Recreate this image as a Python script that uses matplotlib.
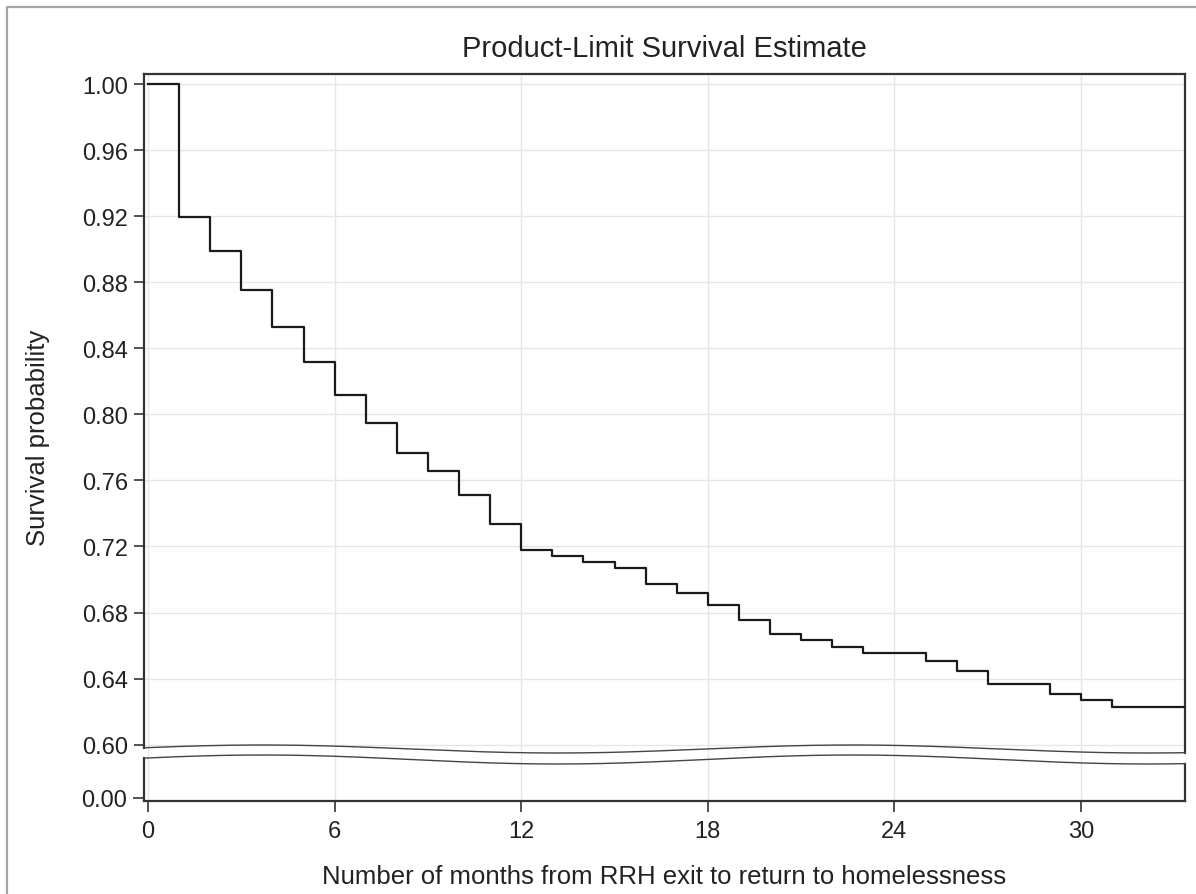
import numpy as np
import matplotlib
matplotlib.use("Agg")
import matplotlib.pyplot as plt
from matplotlib.ticker import FixedLocator, FormatStrFormatter

plt.rcParams['font.family'] = ['Liberation Sans', 'DejaVu Sans']

# ---- data ----
months = [0, 1, 2, 3, 4, 5, 6, 7, 8, 9, 10, 11, 12, 13, 14, 15, 16, 17, 18,
          19, 20, 21, 22, 23, 25, 26, 27, 29, 30, 31, 33.4]
survival = [1.000, 0.9197, 0.8991, 0.8755, 0.8531, 0.8319, 0.8119, 0.7946,
            0.7768, 0.7657, 0.7512, 0.7336, 0.7179, 0.7141, 0.7104, 0.7068,
            0.6973, 0.6920, 0.6846, 0.6755, 0.6668, 0.6632, 0.6593, 0.6555,
            0.6509, 0.6447, 0.6368, 0.6305, 0.6271, 0.6226, 0.6226]
x_ticks = [0, 6, 12, 18, 24, 30]
y_ticks = [0.60, 0.64, 0.68, 0.72, 0.76, 0.80, 0.84, 0.88, 0.92, 0.96, 1.00]
title = "Product-Limit Survival Estimate"
xlabel = "Number of months from RRH exit to return to homelessness"
ylabel = "Survival probability"

W, H = 1196, 895
fig = plt.figure(figsize=(W / 100, H / 100), dpi=100)
fig.patch.set_facecolor('white')

def rect(left, top, right, bottom):
    return [left / W, 1 - bottom / H, (right - left) / W, (bottom - top) / H]

TXT = '#222222'
SP = '#333333'
GRID = '#e6e6e6'

L, R = 144, 1185
x0_px, px_per_month = 148, 31.1
xmin = (L - x0_px) / px_per_month
xmax = (R - x0_px) / px_per_month

# upper axes
top_px, up_bot_px = 75, 754
y100, y060 = 85, 745.7
ppu = (y060 - y100) / 0.40
ax = fig.add_axes(rect(L, top_px, R, up_bot_px))
ax.set_xlim(xmin, xmax)
ax.set_ylim(0.60 - (up_bot_px - y060) / ppu, 1.0 + (y100 - top_px) / ppu)
ax.step(months, survival, where='post', color='#1a1a1a', lw=1.6, zorder=3)
ax.xaxis.set_major_locator(FixedLocator(x_ticks))
ax.yaxis.set_major_locator(FixedLocator(y_ticks))
ax.yaxis.set_major_formatter(FormatStrFormatter('%.2f'))
ax.grid(True, color=GRID, lw=1.0, zorder=0)
ax.set_axisbelow(True)
ax.tick_params(axis='x', bottom=False, labelbottom=False)
ax.tick_params(axis='y', direction='out', length=7.5, width=1.2, color=SP,
               labelsize=17, labelcolor=TXT, pad=4)
ax.spines['bottom'].set_visible(False)
for s in ax.spines.values():
    s.set_color(SP)
    s.set_linewidth(1.6)

# lower axes
lo_top_px, lo_bot_px, zero_px = 755, 801.7, 799
ax2 = fig.add_axes(rect(L, lo_top_px, R, lo_bot_px))
ax2.set_xlim(xmin, xmax)
ax2.set_ylim(-(lo_bot_px - zero_px), zero_px - lo_top_px)
ax2.xaxis.set_major_locator(FixedLocator(x_ticks))
ax2.yaxis.set_major_locator(FixedLocator([0]))
ax2.set_yticklabels(['0.00'])
ax2.grid(True, axis='x', color=GRID, lw=1.0, zorder=0)
ax2.set_axisbelow(True)
ax2.tick_params(axis='both', direction='out', length=8, width=1.2, color=SP,
                labelsize=17, labelcolor=TXT)
ax2.tick_params(axis='y', pad=4)
ax2.tick_params(axis='x', pad=6)
ax2.spines['top'].set_visible(False)
for s in ax2.spines.values():
    s.set_color(SP)
    s.set_linewidth(1.6)

# break waves (pixel coordinates, decoration)
def wave_up(x):
    return 750 + 4.0 * np.sin(2 * np.pi * (x - 410) / 590)

def wave_lo(x):
    return 760.5 + 4.5 * np.sin(2 * np.pi * (x - 410) / 590)

# spine bounds ending at the waves
def up_val(y):
    return 1.0 - (y - y100) / ppu

def lo_val(y):
    return zero_px - y

ax.spines['left'].set_bounds(up_val(wave_up(L)), ax.get_ylim()[1])
ax.spines['right'].set_bounds(up_val(wave_up(R)), ax.get_ylim()[1])
ax2.spines['left'].set_bounds(ax2.get_ylim()[0], lo_val(wave_lo(L)))
ax2.spines['right'].set_bounds(ax2.get_ylim()[0], lo_val(wave_lo(R)))

ov = fig.add_axes([0, 0, 1, 1], zorder=10)
ov.set_xlim(0, W)
ov.set_ylim(H, 0)
ov.axis('off')
xs = np.linspace(L, R, 400)
ov.plot(xs, wave_up(xs), color='#444444', lw=1.0)
ov.plot(xs, wave_lo(xs), color='#444444', lw=1.0)
# outer frame of the picture
ov.plot([7, 7, W + 5], [H + 5, 8, 8], color='#a5a5a5', lw=1.6, clip_on=False)

# texts
fig.text((L + R) / 2 / W, 1 - 57 / H, title, ha='center', va='baseline',
         fontsize=21, color=TXT)
fig.text((L + R) / 2 / W, 1 - 884 / H, xlabel, ha='center', va='baseline',
         fontsize=18.5, color=TXT)
fig.text(38 / W, 1 - 438 / H, ylabel, ha='center', va='center',
         rotation=90, fontsize=18.5, color=TXT)

fig.savefig('out.png', dpi=100, facecolor='white')
